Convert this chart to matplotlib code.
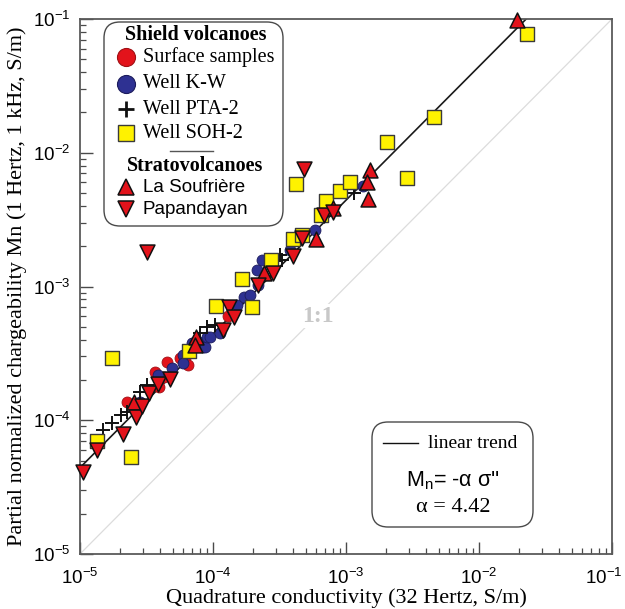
import matplotlib
matplotlib.use('Agg')
import matplotlib.pyplot as plt
import matplotlib.transforms as mtransforms
import numpy as np
from matplotlib.patches import FancyBboxPatch

plt.rcParams['mathtext.fontset'] = 'custom'
plt.rcParams['mathtext.rm'] = 'Liberation Sans'
plt.rcParams['mathtext.it'] = 'Liberation Sans:italic'
plt.rcParams['mathtext.bf'] = 'Liberation Sans:bold'

SERIF = 'Liberation Serif'
SANS = 'Liberation Sans'

# ---------------- data ----------------
surface_x = [2.24e-5, 3.66e-5, 4.31e-5, 4.49e-5, 5.65e-5, 6.15e-5, 6.52e-5, 7.11e-5, 1.30e-4, 3.94e-5]
surface_y = [1.38e-4, 2.31e-4, 2.09e-4, 2.74e-4, 2.90e-4, 2.90e-4, 2.59e-4, 3.76e-4, 6.01e-4, 1.76e-4]

kw_x = [2.83e-5, 3.88e-5, 4.89e-5, 5.91e-5, 5.98e-5, 6.92e-5, 7.88e-5, 8.45e-5, 8.71e-5, 8.97e-5,
        9.48e-5, 1.13e-4, 1.51e-4, 1.71e-4, 1.90e-4, 2.17e-4, 2.13e-4, 2.32e-4, 3.79e-4, 5.85e-4, 1.34e-3]
kw_y = [1.38e-4, 2.18e-4, 2.44e-4, 3.08e-4, 2.67e-4, 3.76e-4, 3.86e-4, 3.55e-4, 3.51e-4, 4.22e-4,
        4.22e-4, 4.52e-4, 7.28e-4, 8.39e-4, 8.63e-4, 1.03e-3, 1.33e-3, 1.58e-3, 1.88e-3, 2.64e-3, 5.64e-3]

pta_x = [1.50e-5, 1.73e-5, 2.02e-5, 2.24e-5, 2.83e-5, 3.21e-5, 7.98e-5, 8.97e-5, 1.04e-4, 3.19e-4, 3.29e-4, 1.15e-3]
pta_y = [8.45e-5, 9.49e-5, 1.09e-4, 1.16e-4, 1.63e-4, 1.84e-4, 4.52e-4, 5.00e-4, 5.15e-4, 1.72e-3, 1.58e-3, 4.98e-3]

soh_x = [1.35e-5, 2.40e-5, 1.75e-5, 6.64e-5, 1.05e-4, 1.95e-4, 1.64e-4, 2.72e-4, 4.02e-4, 4.65e-4,
         4.21e-4, 6.45e-4, 7.08e-4, 9.02e-4, 1.08e-3, 2.02e-3, 2.89e-3, 4.59e-3, 2.29e-2]
soh_y = [7.03e-5, 5.28e-5, 2.90e-4, 3.30e-4, 7.18e-4, 7.07e-4, 1.13e-3, 1.58e-3, 2.25e-3, 2.43e-3,
         5.81e-3, 3.43e-3, 4.39e-3, 5.20e-3, 6.08e-3, 1.20e-2, 6.44e-3, 1.84e-2, 7.72e-2]

soufriere_x = [2.55e-5, 7.45e-5, 7.33e-5, 2.42e-4, 5.94e-4, 8.01e-4, 1.51e-3, 1.45e-3, 1.47e-3, 1.92e-2]
soufriere_y = [1.38e-4, 4.17e-4, 3.66e-4, 1.27e-3, 2.25e-3, 3.85e-3, 7.43e-3, 6.01e-3, 4.49e-3, 9.9e-2]

papandayan_x = [1.05e-5, 1.35e-5, 2.10e-5, 2.64e-5, 2.91e-5, 3.32e-5, 3.88e-5, 4.75e-5, 3.21e-5, 1.18e-4,
                1.33e-4, 1.44e-4, 2.19e-4, 2.84e-4, 3.97e-4, 4.65e-4, 4.83e-4, 6.84e-4, 8.01e-4]
papandayan_y = [4.12e-5, 6.0e-5, 7.89e-5, 1.06e-4, 1.28e-4, 1.59e-4, 1.87e-4, 2.03e-4, 1.82e-3, 4.73e-4,
                7.07e-4, 5.94e-4, 1.03e-3, 1.26e-3, 1.69e-3, 2.29e-3, 7.51e-3, 3.43e-3, 3.61e-3]

alpha = 4.42
axis_min, axis_max = 1e-5, 1e-1
tick_values = [1e-5, 1e-4, 1e-3, 1e-2, 1e-1]
tick_labels = [r'$\mathrm{10^{-5}}$', r'$\mathrm{10^{-4}}$', r'$\mathrm{10^{-3}}$',
               r'$\mathrm{10^{-2}}$', r'$\mathrm{10^{-1}}$']

# ---------------- figure ----------------
W, H = 625, 609
fig = plt.figure(figsize=(W / 100, H / 100), dpi=100)
L, R, T, B = 80, 612, 19, 554
ax = fig.add_axes([L / W, 1 - B / H, (R - L) / W, (B - T) / H])
ax.set_xscale('log')
ax.set_yscale('log')
ax.set_xlim(axis_min, axis_max)
ax.set_ylim(axis_min, axis_max)

# 1:1 line and trend
ax.plot([axis_min, axis_max], [axis_min, axis_max], color='#dcdcdc', lw=0.9, zorder=1)
trend_x = np.array([axis_min, axis_max / alpha])
ax.plot(trend_x, alpha * trend_x, color='#1a1a1a', lw=1.2, zorder=2)

RED = '#E3131B'
BLUE = '#2E3192'
YEL = '#FFF200'

ax.scatter(surface_x, surface_y, s=62, marker='o', facecolor=RED, edgecolor='#a01015', lw=0.6, zorder=3)
ax.scatter(kw_x, kw_y, s=62, marker='o', facecolor=BLUE, edgecolor='#1c1c5c', lw=0.6, zorder=4)
ax.scatter(pta_x, pta_y, s=90, marker='+', color='#111111', lw=1.4, zorder=5)
ax.scatter(soh_x, soh_y, s=95, marker='s', facecolor=YEL, edgecolor='#3a3a3a', lw=1.0, zorder=6)
ax.scatter(soufriere_x, soufriere_y, s=115, marker='^', facecolor=RED, edgecolor='#111111', lw=1.1,
           zorder=7, clip_on=False)
ax.scatter(papandayan_x, papandayan_y, s=115, marker='v', facecolor=RED, edgecolor='#111111', lw=1.1,
           zorder=7, clip_on=False)

# axes styling
for side in ['left', 'bottom', 'top', 'right']:
    ax.spines[side].set_color('#5a5a5a')
    ax.spines[side].set_linewidth(1.3)
ax.tick_params(which='both', direction='in', top=False, right=False, color='#4a4a4a')
ax.tick_params(which='major', length=9, width=1.0, labelsize=13.5)
ax.tick_params(axis='x', which='major', pad=10)
ax.tick_params(axis='y', which='major', pad=7)
ax.tick_params(which='minor', length=4.5, width=0.9)
ax.set_xticks(tick_values)
ax.set_xticklabels(tick_labels)
ax.set_yticks(tick_values)
ax.set_yticklabels(tick_labels)
xl = ax.get_xticklabels()
xl[-1].set_horizontalalignment('right')
xl[-1].set_transform(xl[-1].get_transform() +
                     mtransforms.ScaledTranslation(10 / 100, 0, fig.dpi_scale_trans))
ax.set_xlabel('Quadrature conductivity (32 Hertz, S/m)', fontfamily=SERIF, fontsize=16, labelpad=0)
ax.set_ylabel('Partial normalized chargeability Mn (1 Hertz, 1 kHz, S/m)', fontfamily=SERIF,
              fontsize=16, labelpad=4)

def fx(px):
    return (px - L) / (R - L)

def fy(py):
    return (B - py) / (B - T)

# 1:1 label
ax.text(fx(318), fy(316), '1:1', transform=ax.transAxes, fontfamily=SERIF, fontweight='bold',
        fontsize=17, color='#c8c8c8', ha='center', va='center', zorder=1.5,
        bbox=dict(facecolor='white', edgecolor='none', pad=1))

# ---------------- legend box ----------------
box = FancyBboxPatch((fx(104), fy(226)), fx(283) - fx(104), fy(22) - fy(226),
                     boxstyle='round,pad=0,rounding_size=0.03', transform=ax.transAxes,
                     facecolor='white', edgecolor='#4a4a4a', lw=1.0, zorder=10, clip_on=False)
ax.add_patch(box)

mx = fx(126)
tx = fx(143)
ax.text(fx(196), fy(35), 'Shield volcanoes', transform=ax.transAxes, fontfamily=SERIF,
        fontweight='bold', fontsize=14.5, ha='center', va='center', zorder=11)
rows = [
    (57, 'Surface samples', dict(marker='o', ms=13, mfc=RED, mec='#a01015', mew=0.8)),
    (84, 'Well K-W', dict(marker='o', ms=13, mfc=BLUE, mec='#1c1c5c', mew=0.8)),
    (109, 'Well PTA-2', dict(marker='+', ms=11, color='#111111', mew=2.0)),
    (133, 'Well SOH-2', dict(marker='s', ms=12, mfc=YEL, mec='#3a3a3a', mew=1.0)),
]
for py, label, style in rows:
    ax.plot([mx], [fy(py)], transform=ax.transAxes, linestyle='none', zorder=11, clip_on=False, **style)
    ax.text(tx, fy(py), label, transform=ax.transAxes, fontfamily=SERIF, fontsize=14.5,
            ha='left', va='center', zorder=11)
ax.plot([fx(170), fx(213)], [fy(151), fy(151)], transform=ax.transAxes, color='#555555', lw=1.0,
        zorder=11, clip_on=False)
ax.text(fx(195), fy(166), 'Stratovolcanoes', transform=ax.transAxes, fontfamily=SERIF,
        fontweight='bold', fontsize=14.5, ha='center', va='center', zorder=11)
rows2 = [
    (187, 'La Soufrière', dict(marker='^', ms=12, mfc=RED, mec='#111111', mew=1.1)),
    (209, 'Papandayan', dict(marker='v', ms=12, mfc=RED, mec='#111111', mew=1.1)),
]
for py, label, style in rows2:
    ax.plot([mx], [fy(py)], transform=ax.transAxes, linestyle='none', zorder=11, clip_on=False, **style)
    ax.text(tx, fy(py), label, transform=ax.transAxes, fontfamily=SANS, fontsize=13.5,
            ha='left', va='center', zorder=11)

# ---------------- info box ----------------
box2 = FancyBboxPatch((fx(372), fy(527)), fx(533) - fx(372), fy(422) - fy(527),
                      boxstyle='round,pad=0,rounding_size=0.03', transform=ax.transAxes,
                      facecolor='white', edgecolor='#4a4a4a', lw=1.0, zorder=10)
ax.add_patch(box2)
ax.plot([fx(383), fx(418)], [fy(443), fy(443)], transform=ax.transAxes, color='#111111', lw=1.0, zorder=11)
ax.text(fx(428), fy(443), 'linear trend', transform=ax.transAxes, fontfamily=SERIF, fontsize=14,
        ha='left', va='center', zorder=11)
ax.text(fx(453), fy(481), r"$\mathrm{M_n}$= -α σ''", transform=ax.transAxes, fontfamily=SANS,
        fontsize=15.5, ha='center', va='center', zorder=11)
ax.text(fx(453), fy(507), 'α = 4.42', transform=ax.transAxes, fontfamily=SERIF, fontsize=16,
        ha='center', va='center', zorder=11)

fig.savefig('out.png', dpi=100, facecolor='white')
